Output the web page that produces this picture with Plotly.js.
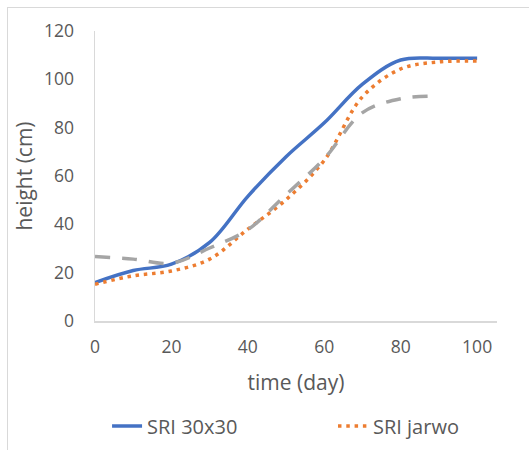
<!DOCTYPE html>
<html>
<head>
<meta charset="utf-8">
<script src="https://cdn.plot.ly/plotly-3.0.1.min.js"></script>
<style>
  html, body { margin: 0; padding: 0; background: #ffffff; overflow: hidden; }
  #frame { position: absolute; left: 7px; top: 7px; width: 560px; height: 480px; border: 1px solid #d9d9d9; }
  #chart { position: absolute; left: 0; top: 0; width: 529px; height: 450px; }
</style>
</head>
<body>
<div id="frame"></div>
<div id="chart"></div>
<script>
// time (day)
const days = [0, 10, 20, 30, 40, 50, 60, 70, 80, 90, 100];
const daysConv = [0, 10, 20, 30, 40, 50, 60, 70, 80, 90];
// height (cm)
const sri3030 = [15.9, 20.9, 23.5, 32.5, 51.6, 68.0, 82.0, 98.0, 108.0, 108.7, 108.7];
const sriJarwo = [15.2, 18.7, 20.7, 25.6, 38.0, 50.2, 66.5, 92.8, 104.3, 107.2, 107.6];
const conventional = [26.7, 25.6, 23.9, 30.2, 37.8, 52.3, 67.2, 86.2, 92.0, 93.1];

const xTicks = [0, 20, 40, 60, 80, 100];
const yTicks = [0, 20, 40, 60, 80, 100, 120];

const FONT = '"Open Sans", "Noto Sans", sans-serif';
const TXT = '#595959';

const traces = [
  {
    x: days, y: sri3030, name: 'SRI 30x30', type: 'scatter', mode: 'lines',
    legend: 'legend',
    line: { color: '#4472C4', width: 3.5, shape: 'spline', smoothing: 1 }
  },
  {
    x: days, y: sriJarwo, name: 'SRI jarwo', type: 'scatter', mode: 'lines',
    legend: 'legend2',
    line: { color: '#ED7D31', width: 3.5, dash: '3.5px,4.8px', shape: 'spline', smoothing: 1 }
  },
  {
    x: daysConv, y: conventional, name: 'Conventional', type: 'scatter', mode: 'lines',
    showlegend: false,
    line: { color: '#A5A5A5', width: 3.5, dash: '15px,12px', shape: 'spline', smoothing: 1 }
  }
];

const legendBase = {
  orientation: 'h', xanchor: 'left', y: -0.362, yanchor: 'middle',
  font: { family: FONT, color: TXT, size: 20 },
  bgcolor: 'rgba(0,0,0,0)'
};

const layout = {
  width: 529, height: 450,
  margin: { l: 95, r: 32, t: 31, b: 129, autoexpand: false },
  paper_bgcolor: 'rgba(0,0,0,0)',
  plot_bgcolor: 'rgba(0,0,0,0)',
  font: { family: FONT, color: TXT, size: 17 },
  xaxis: {
    range: [0, 105.2], tickvals: xTicks, ticktext: xTicks.map(String),
    showgrid: false, zeroline: false, showline: true, linecolor: '#d9d9d9', linewidth: 1.5,
    ticks: '', ticklabelstandoff: 9,
    tickfont: { family: FONT, color: TXT, size: 17.5 },
    title: { text: 'time (day)', font: { family: FONT, color: TXT, size: 21 }, standoff: 19 },
    automargin: false, fixedrange: true
  },
  yaxis: {
    range: [0, 120], tickvals: yTicks, ticktext: yTicks.map(String),
    showgrid: false, zeroline: false, showline: true, linecolor: '#d9d9d9', linewidth: 1.5,
    ticks: '', ticklabelstandoff: 16,
    tickfont: { family: FONT, color: TXT, size: 17.5 },
    title: { text: 'height (cm)', font: { family: FONT, color: TXT, size: 21 }, standoff: 5 },
    automargin: false, fixedrange: true
  },
  showlegend: true,
  legend: Object.assign({}, legendBase, { x: 0.03 }),
  legend2: Object.assign({}, legendBase, { x: 0.592 })
};

Plotly.newPlot('chart', traces, layout, { staticPlot: true, displayModeBar: false });
</script>
</body>
</html>
